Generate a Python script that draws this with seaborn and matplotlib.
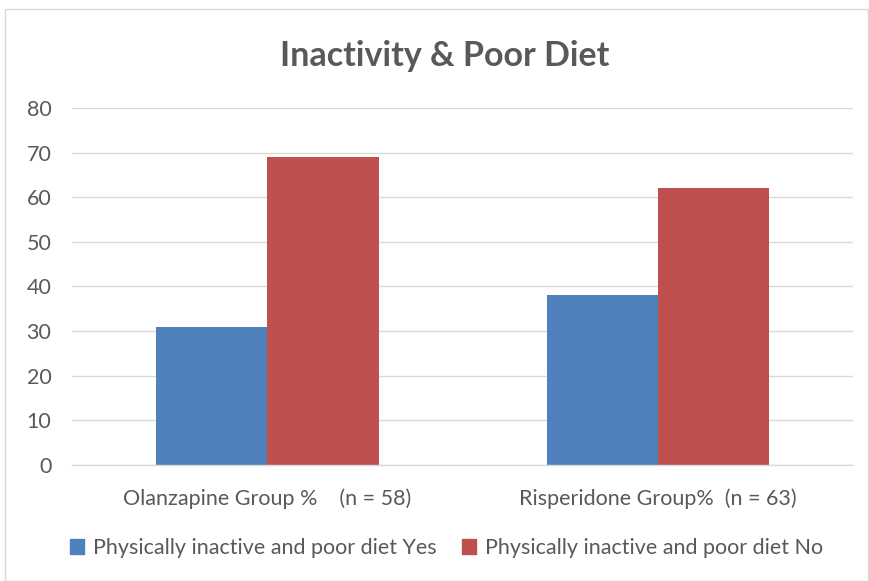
import matplotlib
matplotlib.use("Agg")
import matplotlib.pyplot as plt
import matplotlib.patches as mpatches
import seaborn as sns
import pandas as pd

# Chart data
groups = ["Olanzapine Group %    (n = 58)", "Risperidone Group%  (n = 63)"]
series_names = ["Physically inactive and poor diet Yes", "Physically inactive and poor diet No"]
yes_values = [31, 38]
no_values = [69, 62]
y_ticks = [0, 10, 20, 30, 40, 50, 60, 70, 80]

colors = ["#4F81BD", "#C0504D"]
text_color = "#595959"

df = pd.DataFrame({
    "group": groups * 2,
    "series": [series_names[0]] * len(groups) + [series_names[1]] * len(groups),
    "value": yes_values + no_values,
})

sns.set_theme(style="white")
plt.rcParams["font.family"] = ["Lato", "DejaVu Sans"]

fig = plt.figure(figsize=(8.69, 5.81), dpi=100)
ax = fig.add_axes([0.083, 0.1997, 0.899, 0.6145])

sns.barplot(data=df, x="group", y="value", hue="series", palette=colors,
            width=0.57, gap=0, saturation=1, ax=ax, legend=False,
            edgecolor="none", linewidth=0)

ax.set_ylim(0, 80)
ax.set_yticks(y_ticks)
ax.set_xlim(-0.5, 1.5)
ax.yaxis.grid(True, color="#D9D9D9", linewidth=1)
ax.set_axisbelow(True)
for side in ["top", "right", "left"]:
    ax.spines[side].set_visible(False)
ax.spines["bottom"].set_color("#D9D9D9")
ax.spines["bottom"].set_linewidth(1)
ax.tick_params(axis="both", length=0, colors=text_color)
ax.tick_params(axis="y", labelsize=15.5, pad=15)
ax.tick_params(axis="x", labelsize=15.5, pad=17)
ax.set_xlabel("")
ax.set_ylabel("")

fig.text(0.512, 0.903, "Inactivity & Poor Diet", ha="center", va="center",
         fontsize=24.5, fontweight="bold", color=text_color)

handles = [mpatches.Patch(color=c, label=n) for c, n in zip(colors, series_names)]
leg = fig.legend(handles=handles, loc="center", bbox_to_anchor=(0.514, 0.057), ncol=2,
                 frameon=False, fontsize=15.5, handlelength=0.65, handleheight=0.65,
                 handletextpad=0.4, columnspacing=1.2)
for t in leg.get_texts():
    t.set_color(text_color)

# outer chart frame
fig.patches.append(mpatches.Rectangle((0.006, 0.0), 0.993, 0.984, transform=fig.transFigure,
                                      fill=False, edgecolor="#D9D9D9", linewidth=1))

fig.savefig("out.png", dpi=100)
